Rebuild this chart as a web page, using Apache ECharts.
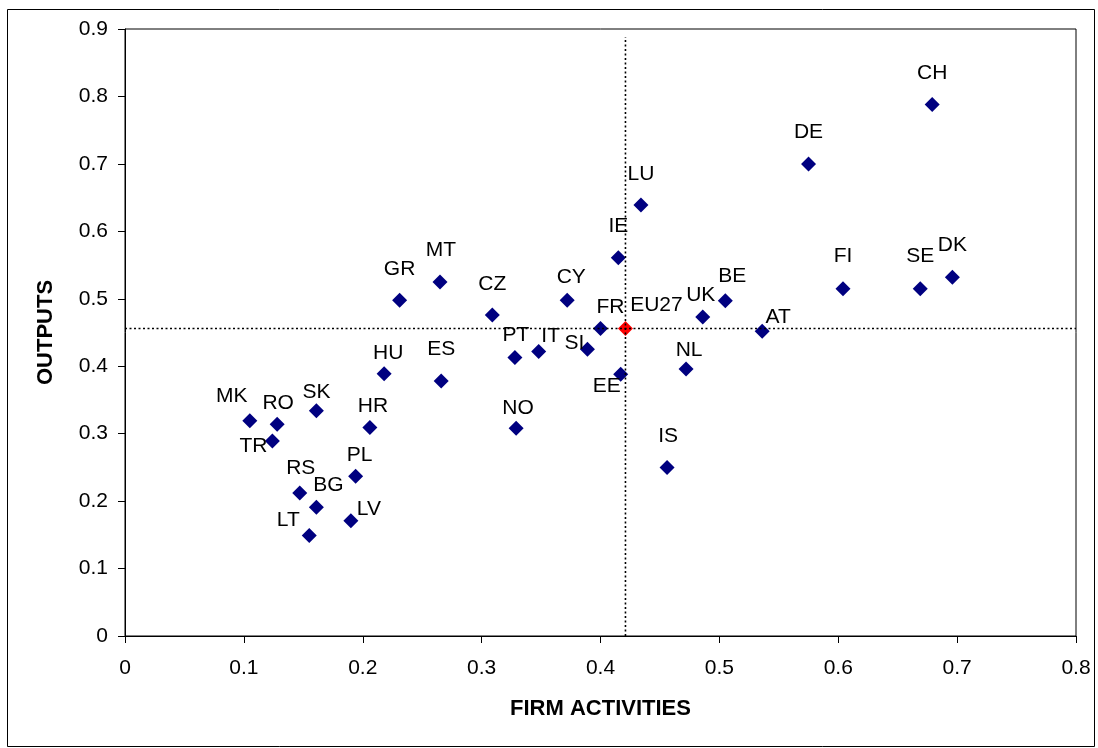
<!DOCTYPE html>
<html>
<head>
<meta charset="utf-8">
<script src="https://cdn.jsdelivr.net/npm/echarts@6/dist/echarts.min.js"></script>
<style>
html,body{margin:0;padding:0;background:#fff;}
#chart{width:1098px;height:748px;}
</style>
</head>
<body>
<div id="chart"></div>
<script>
// ---- Data ----
const countries = ['MK','RO','TR','SK','HR','PL','RS','BG','LV','LT','GR','MT','CZ','CY','FR','HU','ES','PT','IT','SI','EE','NO','IS','NL','UK','BE','AT','LU','IE','FI','SE','DK','DE','CH'];
const firmActivities = [0.105,0.128,0.124,0.161,0.206,0.194,0.147,0.161,0.190,0.155,0.231,0.265,0.309,0.372,0.400,0.218,0.266,0.328,0.348,0.389,0.417,0.329,0.456,0.472,0.486,0.505,0.536,0.434,0.415,0.604,0.669,0.696,0.575,0.679];
const outputs = [0.319,0.314,0.289,0.334,0.309,0.237,0.212,0.191,0.171,0.149,0.498,0.525,0.476,0.498,0.456,0.389,0.378,0.413,0.422,0.425,0.388,0.308,0.250,0.396,0.473,0.497,0.452,0.639,0.561,0.515,0.515,0.532,0.700,0.788];
const eu27Name = 'EU27';
const eu27Firm = 0.421;
const eu27Outputs = 0.456;
const xTicks = [0,0.1,0.2,0.3,0.4,0.5,0.6,0.7,0.8];
const yTicks = [0,0.1,0.2,0.3,0.4,0.5,0.6,0.7,0.8,0.9];
const vLineTop = 0.888;

// ---- Label placement (styling only) ----
const labelShift = {
  MK:[-18,-25], RO:[1,-21], TR:[-19,5], SK:[0,-19], HR:[3,-21], PL:[4,-21], RS:[1,-25], BG:[12,-22], LV:[18,-11], LT:[-21,-15],
  GR:[0,-31], MT:[1,-32], CZ:[0,-31], CY:[4,-23], FR:[10,-21], HU:[4,-20], ES:[0,-32], PT:[1,-22], IT:[12,-15], SI:[-13,-6],
  EE:[-14,12], NO:[2,-20], IS:[1,-31], NL:[3,-19], UK:[-2,-22], BE:[7,-25], AT:[16,-14], LU:[0,-31], IE:[0,-31], FI:[0,-32],
  SE:[0,-32], DK:[0,-32], DE:[0,-32], CH:[0,-31], EU27:[31,-23]
};

const FONT = '"Liberation Sans", Arial, sans-serif';
const navy = '#000080';

const countryData = countries.map((c,i)=>({
  name:c,
  value:[firmActivities[i], outputs[i]],
  label:{offset: labelShift[c]}
}));

const chart = echarts.init(document.getElementById('chart'), null, {renderer:'canvas'});
const option = {
  backgroundColor:'#fff',
  animation:false,
  graphic:[{
    type:'rect', shape:{x:7.5, y:9.5, width:1087, height:737},
    style:{fill:'none', stroke:'#000', lineWidth:1}, silent:true, z:-1
  }],
  grid:{left:125, top:29, right:22, bottom:112, show:true, borderColor:'#000', borderWidth:1, backgroundColor:'#fff'},
  xAxis:{
    type:'value', min:0, max:0.8, interval:0.1,
    name:'FIRM ACTIVITIES', nameLocation:'middle', nameGap:62,
    nameTextStyle:{fontFamily:FONT, fontWeight:'bold', fontSize:22, color:'#000'},
    axisLine:{show:true, onZero:false, lineStyle:{color:'#000', width:1}},
    axisTick:{show:true, inside:false, length:7, lineStyle:{color:'#000'}},
    axisLabel:{fontFamily:FONT, fontSize:21, color:'#000', margin:22,
      formatter:v=>{const t=xTicks.find(k=>Math.abs(k-v)<1e-9); return t===undefined?'':String(t);}},
    splitLine:{show:false}
  },
  yAxis:{
    type:'value', min:0, max:0.9, interval:0.1,
    name:'OUTPUTS', nameLocation:'middle', nameGap:68, nameRotate:90,
    nameTextStyle:{fontFamily:FONT, fontWeight:'bold', fontSize:22, color:'#000'},
    axisLine:{show:true, onZero:false, lineStyle:{color:'#000', width:1}},
    axisTick:{show:true, inside:false, length:7, lineStyle:{color:'#000'}},
    axisLabel:{fontFamily:FONT, fontSize:21, color:'#000', margin:17,
      formatter:v=>{const t=yTicks.find(k=>Math.abs(k-v)<1e-9); return t===undefined?'':String(t);}},
    splitLine:{show:false}
  },
  series:[
    {
      type:'scatter', name:'countries', data:countryData,
      symbol:'diamond', symbolSize:15,
      itemStyle:{color:navy, opacity:1},
      label:{show:true, position:'inside', formatter:'{b}', fontFamily:FONT, fontSize:21, color:'#000', opacity:1},
      z:3
    },
    {
      type:'scatter', name:eu27Name, data:[{name:eu27Name, value:[eu27Firm, eu27Outputs], label:{offset:labelShift.EU27}}],
      symbol:'diamond', symbolSize:15,
      itemStyle:{color:'#ff0000', opacity:1},
      label:{show:true, position:'inside', formatter:'{b}', fontFamily:FONT, fontSize:21, color:'#000', opacity:1},
      z:3
    },
    {
      type:'line', name:'hline', data:[[xTicks[0], eu27Outputs],[xTicks[xTicks.length-1], eu27Outputs]],
      symbol:'none', silent:true,
      lineStyle:{color:'#000', width:1.6, type:[2,2.5]}, z:4
    },
    {
      type:'line', name:'vline', data:[[eu27Firm, 0],[eu27Firm, vLineTop]],
      symbol:'none', silent:true,
      lineStyle:{color:'#000', width:1.6, type:[2,2.5]}, z:4
    }
  ]
};
chart.setOption(option);
</script>
</body>
</html>
